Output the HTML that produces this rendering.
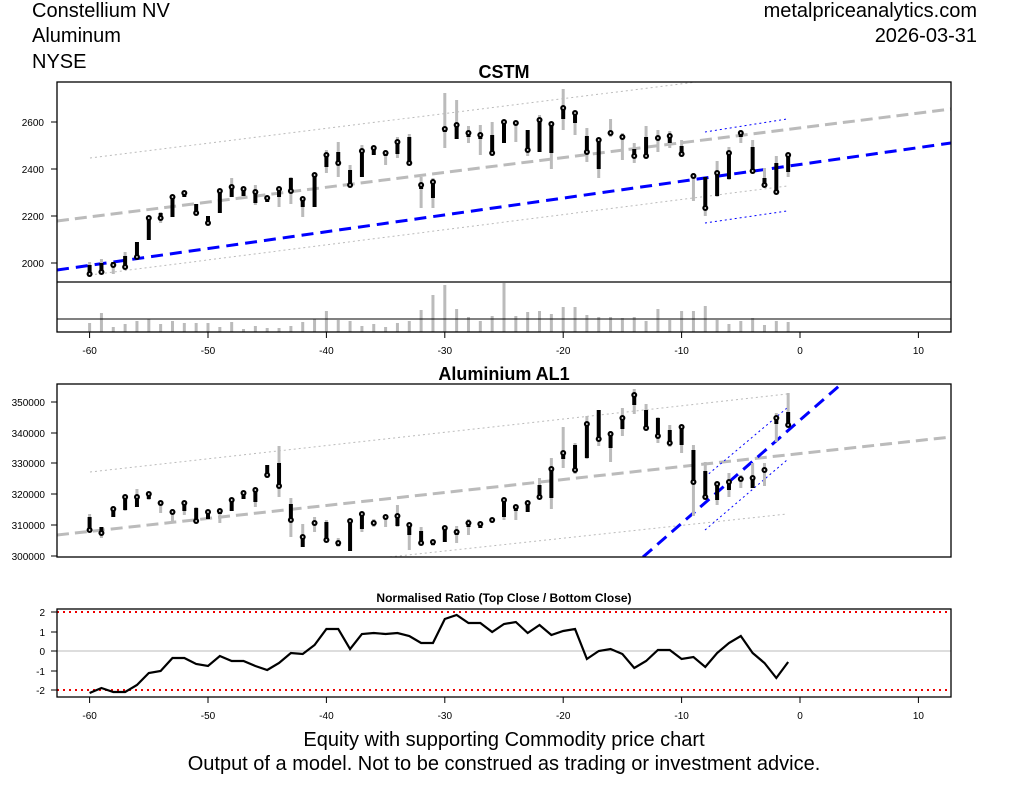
<!DOCTYPE html>
<html><head><meta charset="utf-8"><style>
body{margin:0;background:#fff;}
svg{display:block;font-family:"Liberation Sans",Arial,sans-serif;}
</style></head><body>
<svg id="s" width="1009" height="785" xmlns="http://www.w3.org/2000/svg">
<rect width="1009" height="785" fill="#fff"/>
<text x="32" y="17" font-size="20">Constellium NV</text>
<text x="32" y="42" font-size="20">Aluminum</text>
<text x="32" y="68" font-size="20">NYSE</text>
<text x="977" y="17" font-size="20" text-anchor="end">metalpriceanalytics.com</text>
<text x="977" y="42" font-size="20" text-anchor="end">2026-03-31</text>
<text x="504" y="78" font-size="18" font-weight="bold" text-anchor="middle">CSTM</text>
<text x="504" y="380" font-size="18" font-weight="bold" text-anchor="middle">Aluminium AL1</text>
<text x="504" y="602" font-size="12" font-weight="bold" text-anchor="middle">Normalised Ratio (Top Close / Bottom Close)</text>
<text x="504" y="746" font-size="20" text-anchor="middle">Equity with supporting Commodity price chart</text>
<text x="504" y="770" font-size="20" text-anchor="middle">Output of a model. Not to be construed as trading or investment advice.</text>
<g id="g"></g>
</svg>
<script>
(function(){
var g=document.getElementById('g'),h='';
function X(d){return 800+11.84*d;}
function L(x1,y1,x2,y2,st){h+='<line x1="'+x1+'" y1="'+y1+'" x2="'+x2+'" y2="'+y2+'" '+st+'/>';}
function T(x,y,t,a){h+='<text x="'+x+'" y="'+y+'" font-size="10" text-anchor="'+(a||'middle')+'">'+t+'</text>';}
var GD='stroke="#bbb" stroke-width="3" stroke-dasharray="12,6"',BD='stroke="#0000ff" stroke-width="3" stroke-dasharray="12,7"',
GO='stroke="#bbb" stroke-width="1" stroke-dasharray="2,3"',BO='stroke="#0000ff" stroke-width="1" stroke-dasharray="2,3"';
var topd=[[265,274,262,277],[263,272,259,273],[262,265,262,274],[256,267,252,268],[242,257,242,257],[218,240,218,240,1],[213,218,212,223],[197,217,197,217,1],[193,197,193,197,1],[204,213,204,213],[216,223,216,223],[191,213,191,213,1],[187,197,178,197,1],[189,196,188,196,1],[192,203,185,205,1],[198,202,198,202,1],[189,197,188,207,1],[178,191,177,204],[199,207,199,217,1],[175,207,175,207,1],[155,167,150,173,1],[152,163,142,177],[170,185,165,186],[151,177,145,177,1],[148,155,148,155,1],[153,156,150,165,1],[142,154,137,158,1],[137,163,134,163],[185,189,177,208,1],[182,198,178,208,1],[129,132,93,148,1],[125,139,100,139,1],[133,137,126,143,1],[135,139,125,155,1],[135,153,122,156],
[122,143,122,143,1],[123,125,122,142,1],[130,150,130,156],[120,152,115,152,1],[124,153,124,169,1],[108,119,89,130,1],[113,123,113,135,1],[136,152,128,162],[140,169,140,178,1],[133,135,119,137,1],[137,138,133,160,1],[149,156,143,163],[137,156,126,157],[138,139,130,152,1],[136,143,131,148,1],[146,154,140,157],[176,177,173,201,1],[177,208,177,216],[173,196,161,197,1],[153,179,147,180,1],[133,137,130,143,1],[147,171,140,174],[178,185,168,187],[163,192,156,192],[155,172,155,177,1]];
var vol=[323,313,327,324,321,319,324,321,323,323,323,327,322,329,326,328,328,326,322,319,311,320,321,326,324,327,323,321,310,295,285,309,317,321,316,283,316,312,311,314,307,307,315,317,317,318,317,321,309,320,311,311,306,320,324,321,318,325,321,322];
var mid=[[517,530,514,530],[527,533,527,538],[509,517,506,517,1],[497,510,495,511,1],[497,507,489,507,1],[494,499,493,500,1],[503,504,502,513,1],[512,513,509,522,1],[503,511,502,515,1],[508,521,507,521],[512,519,511,519,1],[511,514,510,523,1],[500,511,500,511,1],[493,499,493,499,1],[490,502,490,507,1],[465,475,465,478],[463,486,446,497],[504,520,498,537],[537,547,524,547,1],[523,524,517,532,1],[522,540,520,540],[543,546,538,547,1],[521,551,519,551,1],[514,529,514,532,1],[523,525,519,527,1],[517,519,515,527,1],[516,526,505,527,1],[525,535,525,550,1],[531,543,527,544],[542,545,540,546,1],[528,542,528,542,1],[532,535,526,543,1],[523,527,519,535,1],[524,528,522,528,1],[520,522,520,523,1],[500,517,500,520,1],[507,511,505,520,1],[503,512,501,512,1],[485,497,478,498],[469,498,458,509,1],[453,459,427,468,1],[445,470,443,474],[424,458,416,459,1],[410,439,410,446],[434,448,431,462,1],[418,429,408,436,1],[395,405,389,414,1],[410,428,404,428],[418,436,417,443],[430,443,425,447],[427,445,427,453,1],[450,482,445,516],[471,497,462,497],[484,500,484,505,1],[482,490,473,497,1],[479,481,475,488,1],[478,488,463,488,1],[470,472,463,486,1],[418,424,413,442,1],[412,425,393,425]];
var rat=[693,688,692,692,685,673,671,658,658,664,666,656,661,661,666,670,663,653,654,645,629,629,649,634,633,634,633,636,643,643,619,615,623,623,632,624,622,633,625,635,631,629,659,651,649,654,668,661,650,650,659,657,667,653,643,636,653,663,678,662];
function candles(arr){arr.forEach(function(c,i){var x=X(i-60);
 L(x,c[2],x,c[3],'stroke="#bbb" stroke-width="3"');
 L(x,c[0],x,c[1],'stroke="#000" stroke-width="4"');
 var my=c[4]?c[0]:c[1];
 h+='<circle cx="'+x+'" cy="'+my+'" r="3" fill="#000"/><circle cx="'+x+'" cy="'+my+'" r="0.9" fill="#fff"/>';});}
h+='<clipPath id="c1"><rect x="57" y="82" width="894" height="200"/></clipPath><clipPath id="c2"><rect x="57" y="384" width="894" height="173"/></clipPath>';
h+='<g clip-path="url(#c1)">';
L(57,221,951,109,GD);L(90,158,760,74,GO);L(90,275,787,186,GO);
L(57,270,951,143,BD);L(705,132,787,119,BO);L(705,223,787,211,BO);
candles(topd);h+='</g>';
vol.forEach(function(v,i){var x=X(i-60);L(x,v,x,332,'stroke="#bbb" stroke-width="3"');});
L(57,319,951,319,'stroke="#000" stroke-width="1"');
h+='<rect x="57" y="82" width="894" height="250" fill="none" stroke="#000" stroke-width="1.3"/>';
L(57,282,951,282,'stroke="#000" stroke-width="1.3"');
[[2600,122],[2400,169],[2200,216],[2000,263]].forEach(function(t){L(51,t[1],57,t[1],'stroke="#000"');T(44,t[1]+4,t[0],'end');});
h+='<g clip-path="url(#c2)">';
L(57,535,951,437,GD);L(90,472,787,394,GO);L(380,558,787,514,GO);
L(643,557,839,386,BD);L(705,477,787,408,BO);L(705,530,787,460,BO);
candles(mid);h+='</g>';
h+='<rect x="57" y="384" width="894" height="173" fill="none" stroke="#000" stroke-width="1.3"/>';
[[350000,402],[340000,433],[330000,463],[320000,494],[310000,525],[300000,556]].forEach(function(t){L(51,t[1],57,t[1],'stroke="#000"');T(45,t[1]+4,t[0],'end');});
L(57,651,951,651,'stroke="#bbb" stroke-width="1"');
L(57,612,951,612,'stroke="#e00" stroke-width="2" stroke-dasharray="2,4"');
L(57,690,951,690,'stroke="#e00" stroke-width="2" stroke-dasharray="2,4"');
var p=rat.map(function(v,i){return X(i-60)+','+v;}).join(' ');
h+='<polyline points="'+p+'" fill="none" stroke="#000" stroke-width="2.2"/>';
h+='<rect x="57" y="609" width="894" height="88" fill="none" stroke="#000" stroke-width="1.3"/>';
[[2,612],[1,632],[0,651],[-1,671],[-2,690]].forEach(function(t){L(51,t[1],57,t[1],'stroke="#000"');T(45,t[1]+4,t[0],'end');});
[-60,-50,-40,-30,-20,-10,0,10].forEach(function(d){var x=X(d);
 L(x,332,x,338,'stroke="#000"');T(x,354,d);
 L(x,697,x,703,'stroke="#000"');T(x,719,d);});
g.innerHTML=h;
})();
</script>
</body></html>
